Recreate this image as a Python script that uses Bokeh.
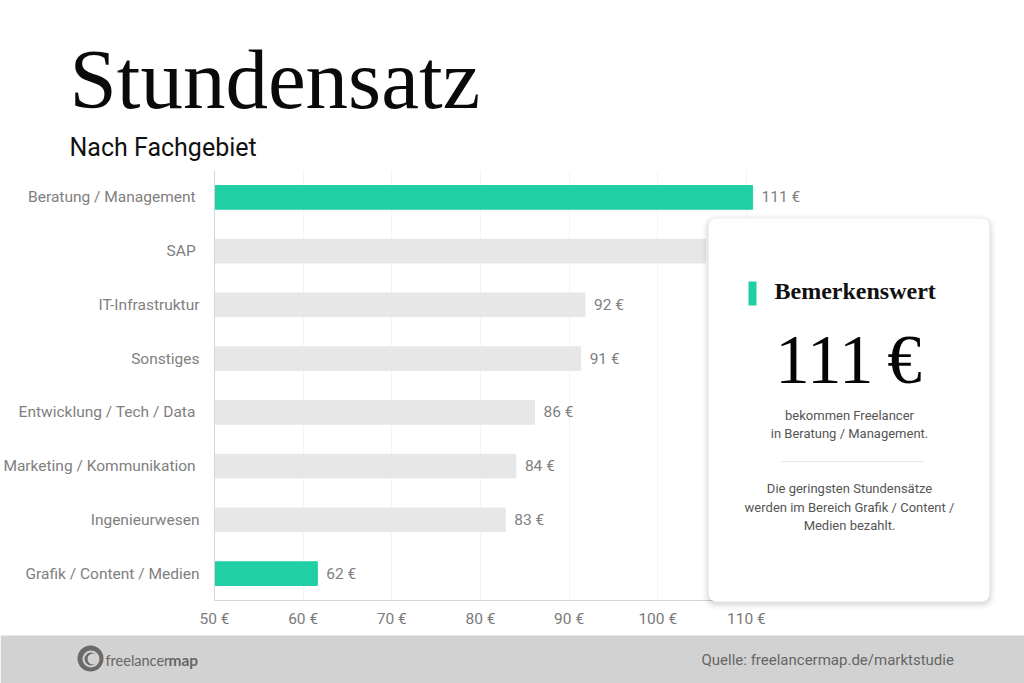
from bokeh.plotting import figure
from bokeh.core.properties import value
from bokeh.models import (ColumnDataSource, FactorRange, Range1d, BoxAnnotation, Label, LabelSet,
                          FixedTicker, CustomJSTickFormatter)
from bokeh.embed import file_html
from bokeh.resources import INLINE

NB = "\u00a0"
categories = ["Beratung / Management" + NB, "SAP" + NB, "IT-Infrastruktur", "Sonstiges",
              "Entwicklung / Tech / Data" + NB, "Marketing / Kommunikation" + NB,
              "Ingenieurwesen", "Grafik / Content / Medien"]
values = [110.7, 105.4, 91.8, 91.3, 86.1, 84.0, 82.8, 61.6]
bar_colors = ["#21cfa5", "#e7e7e8", "#e7e7e8", "#e7e7e8", "#e7e7e8", "#e7e7e8", "#e7e7e8", "#21cfa5"]
value_labels = ["111 €", "", "92 €", "91 €", "86 €", "84 €", "83 €", "62 €"]
x_ticks = [50, 60, 70, 80, 90, 100, 110]

W, H = 1024, 683
p = figure(width=W, height=H, output_backend="svg", toolbar_location=None,
           y_range=FactorRange(factors=categories[::-1], factor_padding=0, range_padding=0, group_padding=0),
           x_range=Range1d(50, 141.37),
           min_border_left=214, min_border_right=0, min_border_top=170, min_border_bottom=83,
           background_fill_color="white", border_fill_color="white", outline_line_color=None)
p.styles = {"position": "absolute", "left": "0px", "top": "0px"}

src = ColumnDataSource(dict(cat=categories, val=values, col=bar_colors, lab=value_labels))
p.hbar(y="cat", left=50, right="val", height=0.44, color="col", source=src)

vis = [i for i, t in enumerate(value_labels) if t]
lab_src = ColumnDataSource(dict(cat=[categories[i] for i in vis], val=[values[i] for i in vis],
                                lab=[value_labels[i] for i in vis]))
p.add_layout(LabelSet(x="val", y="cat", text="lab", source=lab_src, x_offset=9, y_offset=0,
                      text_font=value("Roboto"), text_font_size=value("15.5px"), text_color="#808080",
                      text_baseline="middle"))

p.xgrid.ticker = FixedTicker(ticks=x_ticks)
p.xgrid.grid_line_color = "#f4f4f4"
p.ygrid.grid_line_color = None

ax = p.xaxis[0]
ax.ticker = FixedTicker(ticks=x_ticks)
ax.formatter = CustomJSTickFormatter(code="return tick + ' €'")
ax.bounds = (50, 110)
ax.axis_line_color = "#d6d6d6"
ax.major_tick_line_color = None
ax.minor_tick_line_color = None
ax.major_label_text_font = "Roboto"
ax.major_label_text_font_size = "15.5px"
ax.major_label_text_color = "#7a7a7a"
ax.major_label_standoff = 3

ay = p.yaxis[0]
ay.axis_line_color = "#d6d6d6"
ay.major_tick_line_color = None
ay.minor_tick_line_color = None
ay.major_label_text_font = "Roboto"
ay.major_label_text_font_size = "15.5px"
ay.major_label_text_color = "#808080"
ay.major_label_standoff = 9

# transparent overlay sheet covering the whole page, for the card, headline and footer
o = figure(width=W, height=H, output_backend="svg", toolbar_location=None,
           x_range=Range1d(0, W), y_range=Range1d(H, 0), x_axis_type=None, y_axis_type=None,
           min_border=0, background_fill_color=None, border_fill_color=None, outline_line_color=None)
o.grid.visible = False
o.styles = {"position": "absolute", "left": "0px", "top": "0px"}


def box(l, t, r, b, color, alpha=1.0, radius=0):
    o.add_layout(BoxAnnotation(left=l, right=r, top=t, bottom=b, left_units="canvas", right_units="canvas",
                               top_units="canvas", bottom_units="canvas", fill_color=color, fill_alpha=alpha,
                               line_color=None, border_radius=radius, editable=False))


def text(x, y, t, font, size, color, align="left", style="normal"):
    o.add_layout(Label(x=x, y=y - 0.36 * size, x_units="canvas", y_units="canvas", text=t, text_font=font,
                       text_font_size=f"{size}px", text_color=color, text_align=align,
                       text_baseline="alphabetic", text_font_style=style))


# footer
box(0, 635, 1024, 683, "#d2d2d2")
# card with soft shadow
for g, a in [(7, 0.006), (6, 0.008), (5, 0.012), (4, 0.015), (3, 0.02), (2, 0.025), (1, 0.03)]:
    box(708 - g, 218 - g + 2, 989 + g, 601 + g + 2, "#000000", a, 8 + g)
box(708, 218, 989, 601, "#ffffff", 1.0, 8)
box(748, 281, 756, 305, "#21cfa5")
box(781, 460.5, 923, 461.5, "#e6e6e6")

text(69, 109, "Stundensatz", "Liberation Serif", 85, "#0a0a0a")
text(69, 156, "Nach Fachgebiet", "Roboto", 25, "#111111")
text(774, 299, "Bemerkenswert", "Liberation Serif", 24, "#111111", style="bold")
text(848, 384, "111\u2009€", "Liberation Serif", 69, "#050505", "center")
for y, t in [(420, "bekommen Freelancer"), (438, "in Beratung / Management."),
             (493, "Die geringsten Stundensätze"), (512, "werden im Bereich Grafik / Content /"),
             (530, "Medien bezahlt.")]:
    text(849, y, t, "Roboto", 13, "#555555", "center")
text(701, 665, "Quelle: freelancermap.de/marktstudie", "Roboto", 15, "#666666")

# logo
box(77, 645, 103, 671, "#6a6a6a", 1.0, 13)
box(82, 650, 99, 667, "#d2d2d2", 1.0, 9)
box(84, 652, 97, 665, "#6a6a6a", 1.0, 7)
box(87, 653, 98, 664, "#d2d2d2", 1.0, 6)
text(105, 665, "freelancer", "Lato", 14.5, "#666666")
text(168, 665, "map", "Lato", 15.5, "#666666", style="bold")

open("out.html", "w").write(file_html((p, o), INLINE))
